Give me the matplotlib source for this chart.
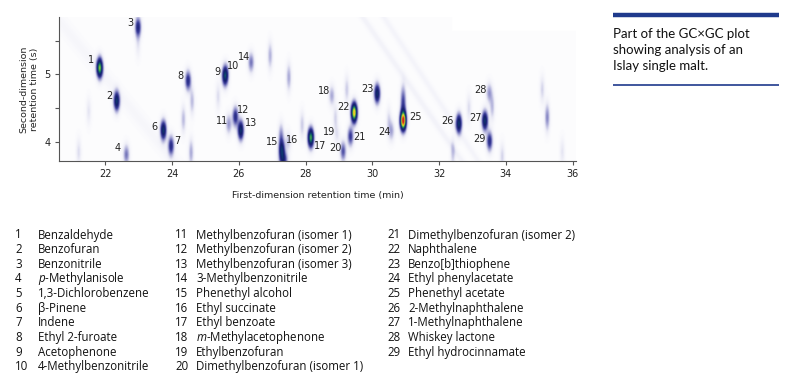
import numpy as np
import matplotlib
matplotlib.use('Agg')
import matplotlib.pyplot as plt
from matplotlib.colors import LinearSegmentedColormap

plt.rcParams['mathtext.fontset'] = 'custom'
plt.rcParams['mathtext.rm'] = 'Open Sans'
plt.rcParams['mathtext.it'] = 'Open Sans:italic'

# ---- data: labelled peaks (1st dim min, 2nd dim s, relative height) ----
peak_ids = ['1', '2', '3', '4', '6', '7', '8', '9', '10', '11', '12', '13', '14', '15',
            '16', '17', '18', '19', '20', '21', '22', '23', '24', '25', '26', '27',
            '28', '29']
peak_t1 = [21.83, 22.34, 22.98, 22.63, 23.74, 23.97, 24.48, 25.59, 25.62, 25.70, 25.90,
           26.06, 26.37, 27.29, 27.48, 28.16, 28.79, 28.95, 29.13, 29.35, 29.46, 30.15,
           30.58, 30.93, 32.60, 33.38, 33.51, 33.52]
peak_t2 = [5.09, 4.60, 5.69, 3.81, 4.17, 3.94, 4.90, 4.97, 5.02, 4.26, 4.37, 4.17, 5.17,
           3.88, 4.00, 4.06, 4.68, 4.10, 3.86, 4.08, 4.43, 4.71, 4.16, 4.31, 4.27, 4.31,
           4.72, 4.01]
peak_h = [0.68, 0.46, 0.32, 0.18, 0.46, 0.30, 0.30, 0.46, 0.08, 0.14, 0.30, 0.46, 0.18,
          0.40, 0.08, 0.64, 0.12, 0.05, 0.22, 0.26, 0.84, 0.44, 0.12, 1.00, 0.46, 0.46,
          0.14, 0.30]

# label anchor positions (data coords)
lab_x = [21.58, 22.11, 22.76, 22.36, 23.47, 24.16, 24.25, 25.35, 25.82, 25.49, 26.14,
         26.36, 26.15, 27.00, 27.61, 28.44, 28.54, 28.69, 28.89, 29.61, 29.13, 29.85,
         30.36, 31.28, 32.26, 33.10, 33.24, 33.20]
lab_y = [5.21, 4.68, 5.76, 3.91, 4.22, 4.01, 4.97, 5.03, 5.12, 4.31, 4.48, 4.28, 5.26,
         4.00, 4.03, 3.94, 4.76, 4.15, 3.91, 4.08, 4.52, 4.79, 4.15, 4.37, 4.31, 4.36,
         4.77, 4.04]

# unlabelled minor responses
minor_t1 = [21.2, 21.5, 24.34, 24.57, 24.6, 25.38, 26.94, 27.5, 27.9, 29.24, 28.9, 30.5,
            32.42, 32.9, 33.6, 33.9, 35.25, 35.1, 35.7, 22.98]
minor_t2 = [3.85, 4.45, 4.33, 3.84, 4.60, 4.67, 5.27, 4.95, 4.25, 4.77, 4.35, 4.30, 3.84,
            4.50, 4.52, 3.78, 4.36, 4.77, 3.85, 5.45]
minor_h = [0.06, 0.05, 0.10, 0.12, 0.10, 0.06, 0.11, 0.12, 0.08, 0.08, 0.07, 0.07, 0.09,
           0.06, 0.10, 0.07, 0.16, 0.07, 0.05, 0.05]

compounds = ['Benzaldehyde', 'Benzofuran', 'Benzonitrile', r'$\it{p}$-Methylanisole',
             '1,3-Dichlorobenzene', 'β-Pinene', 'Indene', 'Ethyl 2-furoate', 'Acetophenone',
             '4-Methylbenzonitrile', 'Methylbenzofuran (isomer 1)',
             'Methylbenzofuran (isomer 2)', 'Methylbenzofuran (isomer 3)',
             '3-Methylbenzonitrile', 'Phenethyl alcohol', 'Ethyl succinate',
             'Ethyl benzoate', r'$\it{m}$-Methylacetophenone', 'Ethylbenzofuran',
             'Dimethylbenzofuran (isomer 1)', 'Dimethylbenzofuran (isomer 2)',
             'Naphthalene', 'Benzo[b]thiophene', 'Ethyl phenylacetate',
             'Phenethyl acetate', '2-Methylnaphthalene', '1-Methylnaphthalene',
             'Whiskey lactone', 'Ethyl hydrocinnamate']

# ---- build the 2D chromatogram surface ----
xg = np.linspace(20.62, 36.1, 700)
yg = np.linspace(3.72, 5.85, 260)
X, Y = np.meshgrid(xg, yg)
Z = np.full_like(X, 0.01)

def blob(cx, cy, h, sx=0.06, sy=0.095):
    return h * np.exp(-((X - cx) ** 2 / (2 * sx ** 2) + (Y - cy) ** 2 / (2 * sy ** 2)))

for cx, cy, h in zip(peak_t1, peak_t2, peak_h):
    Z += blob(cx, cy, h)
# tailing of the big peaks
Z += blob(30.93, 4.58, 0.24, 0.055, 0.16)
Z += blob(27.34, 3.73, 0.30, 0.08, 0.08)
Z += blob(27.27, 4.08, 0.16, 0.055, 0.12)
for cx, cy, h in zip(minor_t1, minor_t2, minor_h):
    Z += blob(cx, cy, h, 0.05, 0.13)

# faint diagonal bleed bands
def band(x1, y1, x2, y2, h, w=0.07):
    dx, dy = x2 - x1, (y2 - y1) * 4
    n = np.hypot(dx, dy)
    d = np.abs((X - x1) * dy - (Y - y1) * 4 * dx) / n
    return h * np.exp(-d ** 2 / (2 * w ** 2))

Z += band(29.7, 5.85, 32.6, 3.78, 0.025)
Z += band(30.6, 5.65, 32.6, 4.15, 0.02)
Z += band(22.0, 4.95, 24.0, 3.75, 0.015, 0.15)
Z[(X > 32.4) & (Y > 5.63)] = 0.0

cmap = LinearSegmentedColormap.from_list('gcxgc', [
    (0.00, '#ffffff'), (0.05, '#ececf6'), (0.13, '#a8a8d6'), (0.25, '#3a3c9a'),
    (0.38, '#141c6a'), (0.50, '#0c3d70'), (0.60, '#1a8c56'), (0.70, '#8cc63c'),
    (0.80, '#f0e020'), (0.89, '#f08a20'), (1.00, '#d0201a')])

fig = plt.figure(figsize=(8, 3.92), dpi=100)
ax = fig.add_axes([0.074, 0.589, 0.646, 0.368])
ax.imshow(Z, extent=[xg[0], xg[-1], yg[0], yg[-1]], origin='lower', aspect='auto',
          cmap=cmap, vmin=0, vmax=1.0, interpolation='bilinear')
ax.set_xlim(20.62, 36.1)
ax.set_ylim(3.72, 5.85)

for s, x, y in zip(peak_ids, lab_x, lab_y):
    ax.text(x, y, s, fontsize=7, ha='center', va='center', color='#222222')

ax.set_xticks(range(22, 37, 2))
ax.set_yticks([4, 5])
ax.set_yticks([4.5, 5.5], minor=True)
ax.tick_params(which='both', direction='out', length=3, width=0.8, colors='#555555',
               labelsize=7, labelcolor='#222222', pad=3)
for side in ('top', 'right'):
    ax.spines[side].set_visible(False)
for side in ('left', 'bottom'):
    ax.spines[side].set_color('#555555')
    ax.spines[side].set_linewidth(0.8)
ax.set_xlabel('First-dimension retention time (min)', fontsize=6.8, color='#222222',
              labelpad=8)
ax.set_ylabel('Second-dimension\nretention time (s)', fontsize=6.8, color='#222222',
              labelpad=4)

# ---- caption box on the right ----
fig.add_artist(plt.Line2D([613 / 800, 779 / 800], [1 - 14.5 / 392] * 2, color='#1f3a8c',
                          lw=3.2, solid_capstyle='butt'))
fig.add_artist(plt.Line2D([613 / 800, 779 / 800], [1 - 84.5 / 392] * 2, color='#1f3a8c',
                          lw=1.2, solid_capstyle='butt'))
fig.text(613 / 800, 1 - 27.5 / 392, 'Part of the GC×GC plot\nshowing analysis of an\nIslay single malt.',
         fontsize=9.5, family='Lato', va='top', ha='left', color='#111111', linespacing=1.45)

# ---- compound key ----
col_num_x = [15, 175, 387]
col_txt_x = [38, 196, 408]
row0, dy = 235, 14.65
for i, name in enumerate(compounds):
    c, r = divmod(i, 10)
    yy = 1 - (row0 + r * dy) / 392
    fig.text(col_num_x[c] / 800, yy, str(i + 1), fontsize=8.3, family='Open Sans',
             va='center', ha='left', color='#111111')
    fig.text(col_txt_x[c] / 800, yy, name, fontsize=8.3, family='Open Sans',
             va='center', ha='left', color='#111111')

fig.savefig('out.png', dpi=100, facecolor='white')
